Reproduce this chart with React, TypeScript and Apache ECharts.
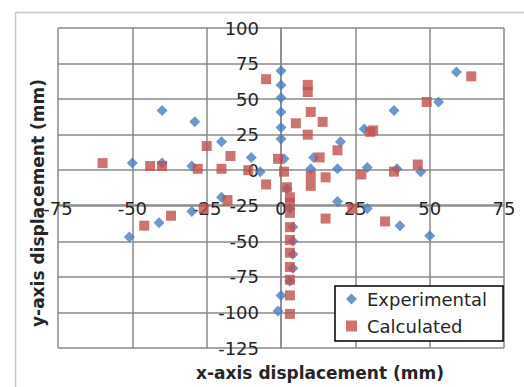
import React, { useEffect, useRef } from "react";
import * as echarts from "echarts";

const xTicks = [-75, -50, -25, 0, 25, 50, 75];
const yTicks = [-125, -100, -75, -50, -25, 0, 25, 50, 75, 100];

const expX = [0, 0, 0, 0, 0, 0, 2, 3, 4, 4, 4, 4, 3, 0, -1, 59, 53, 38, -40, -29, -20, 28, 20, 29, 19, 10, 11, -50, -40, -30, -10, -7, 1, 39, 47, -20, -30, -41, -51, 19, 29, 40, 50];
const expY = [70, 60, 51, 41, 30, 22, -13, -27, -40, -50, -59, -69, -78, -88, -99, 69, 48, 42, 42, 34, 20, 29, 20, 2, 1, 1, 9, 5, 5, 3, 9, -1, 8, 1, -1, -19, -29, -37, -47, -22, -27, -39, -46];

const calcX = [64, 49, 31, 30, 46, 38, 27, 19, 13, 15, 10, 10, 9, 9, 10, 14, 5, 9, -1, -5, 1, -5, -11, -17, -20, -25, -28, -40, -44, -60, -18, -26, -37, -46, 15, 35, 24, 2, 3, 3, 3, 3, 3, 3, 3, 3, 3, 3];
const calcY = [66, 48, 28, 27, 4, -1, -3, 14, 9, -5, -4, -11, 60, 55, 41, 34, 33, 25, 8, 64, -1, -10, 0, 10, 1, 17, 1, 3, 3, 5, -21, -27, -32, -39, -34, -36, -27, -12, -19, -23, -30, -40, -49, -58, -68, -77, -88, -101];

const seriesNames = ["Experimental", "Calculated"];
const xTitle = "x-axis displacement (mm)";
const yTitle = "y-axis displacement (mm)";

export default function App() {
  const ref = useRef<HTMLDivElement>(null);
  useEffect(() => {
    document.body.style.margin = "0";
    const chart = echarts.init(ref.current!, null, { renderer: "svg" });
    const font = "DejaVu Sans";
    const gridColor = "#8a8a8a";
    const labelColor = "#262626";
    chart.setOption({
      animation: false,
      backgroundColor: "#ffffff",
      grid: { left: 58, right: 20, top: 28, bottom: 39, containLabel: false },
      xAxis: {
        type: "value",
        min: xTicks[0],
        max: xTicks[xTicks.length - 1],
        interval: 25,
        offset: -177,
        axisLine: { show: true, onZero: true, onZeroAxisIndex: 0, lineStyle: { color: gridColor, width: 1.5 } },
        axisTick: { show: false },
        splitLine: { show: true, lineStyle: { color: gridColor, width: 1.5 } },
        axisLabel: {
          margin: 28,
          fontFamily: font,
          fontSize: 18,
          color: labelColor,
          showMinLabel: true,
          showMaxLabel: true,
        },
      },
      yAxis: {
        type: "value",
        min: yTicks[0],
        max: yTicks[yTicks.length - 1],
        interval: 25,
        offset: -223,
        axisLine: { show: true, onZero: true, onZeroAxisIndex: 0, lineStyle: { color: gridColor, width: 1.5 } },
        axisTick: { show: false },
        splitLine: { show: true, lineStyle: { color: gridColor, width: 1.5 } },
        axisLabel: {
          margin: 22,
          fontFamily: font,
          fontSize: 18,
          color: labelColor,
          showMinLabel: true,
          showMaxLabel: true,
        },
      },
      legend: {
        data: [
          { name: seriesNames[0], icon: "diamond" },
          { name: seriesNames[1], icon: "rect" },
        ],
        orient: "vertical",
        left: 335,
        top: 286,
        padding: [4, 16, 6, 11],
        itemGap: 9,
        itemWidth: 11,
        itemHeight: 11,
        borderColor: "#000000",
        borderWidth: 1.5,
        backgroundColor: "#ffffff",
        textStyle: { fontFamily: font, fontSize: 18, color: labelColor, padding: [0, 0, 0, 5] },
      },
      graphic: [
        {
          type: "rect",
          left: 13,
          top: 10,
          shape: { width: 530, height: 400 },
          style: { fill: "none", stroke: "#c8c8c8", lineWidth: 1.5 },
          silent: true,
          z: -10,
        },
        {
          type: "text",
          x: 320,
          y: 373,
          style: {
            text: xTitle,
            fontFamily: font,
            fontSize: 17,
            fontWeight: "bold",
            fill: labelColor,
            align: "center",
            verticalAlign: "middle",
          },
        },
        {
          type: "text",
          x: 38,
          y: 203,
          rotation: Math.PI / 2,
          style: {
            text: yTitle,
            fontFamily: font,
            fontSize: 17,
            fontWeight: "bold",
            fill: labelColor,
            align: "center",
            verticalAlign: "middle",
          },
        },
      ],
      series: [
        {
          name: seriesNames[0],
          type: "scatter",
          symbol: "diamond",
          symbolSize: 11,
          itemStyle: { color: "#4a7ebb" },
          data: expX.map((x, i) => [x, expY[i]]),
          z: 2,
        },
        {
          name: seriesNames[1],
          type: "scatter",
          symbol: "rect",
          symbolSize: 10,
          itemStyle: { color: "#c0504d" },
          data: calcX.map((x, i) => [x, calcY[i]]),
          z: 3,
        },
      ],
    });
    return () => chart.dispose();
  }, []);
  return <div ref={ref} style={{ width: 524, height: 387, position: "fixed", left: 0, top: 0 }} />;
}
